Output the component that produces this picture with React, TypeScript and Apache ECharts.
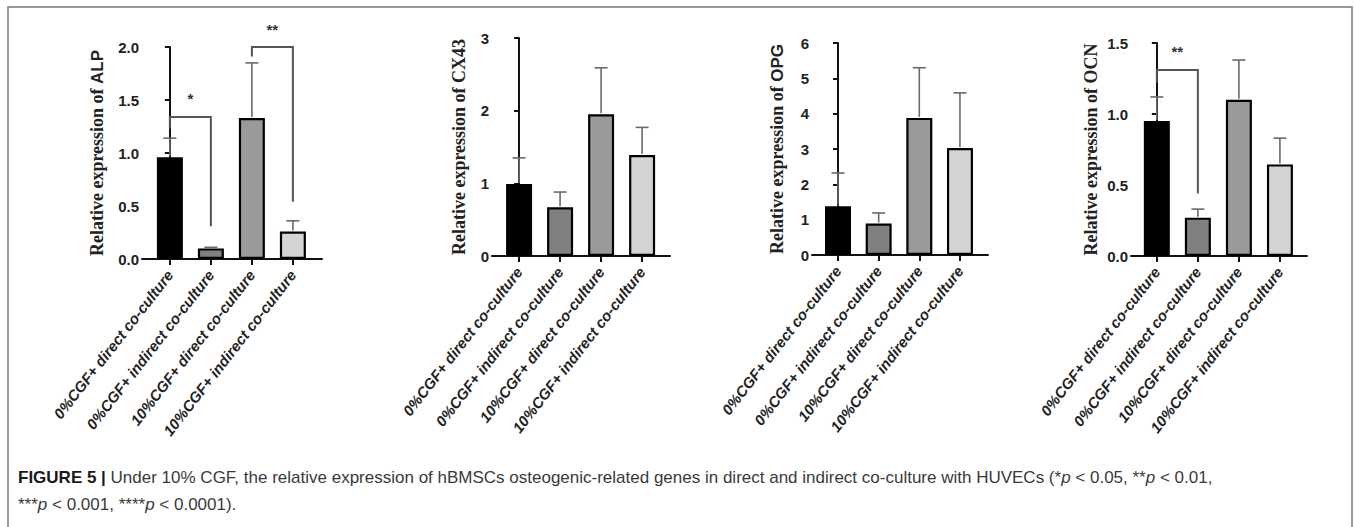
import React, { useEffect, useRef } from "react";
import * as echarts from "echarts";

const categories = [
  "0%CGF+ direct co-culture",
  "0%CGF+ indirect co-culture",
  "10%CGF+ direct co-culture",
  "10%CGF+ indirect co-culture",
];
const barColors = ["#000000", "#808080", "#9a9a9a", "#d4d4d4"];

const alpMean = [0.96, 0.1, 1.33, 0.26];
const alpUpper = [1.14, 0.11, 1.85, 0.36];
const cx43Mean = [0.99, 0.67, 1.95, 1.39];
const cx43Upper = [1.35, 0.88, 2.59, 1.77];
const opgMean = [1.38, 0.89, 3.88, 3.03];
const opgUpper = [2.32, 1.19, 5.3, 4.59];
const ocnMean = [0.95, 0.27, 1.1, 0.645];
const ocnUpper = [1.12, 0.33, 1.38, 0.83];

// brackets: [fromIndex, toIndex, leftEnd, top, rightEnd]
const alpBrackets = [
  [0, 1, 1.23, 1.34, 0.31],
  [2, 3, 1.91, 2.0, 0.54],
];
const alpStars = ["*", "**"];
const ocnBrackets = [[0, 1, 1.22, 1.31, 0.44]];
const ocnStars = ["**"];

const yMax = [2, 3, 6, 1.5];
const yInterval = [0.5, 1, 1, 0.5];
const yDecimals = [1, 0, 0, 1];

const panels = [
  { gene: "ALP", geneSerif: false, mean: alpMean, upper: alpUpper, brackets: alpBrackets, stars: alpStars,
    grid: { left: 142, top: 47, width: 180, height: 212 }, xMin: -0.68, xMax: 3.71, nameGap: 36 },
  { gene: "CX43", geneSerif: true, mean: cx43Mean, upper: cx43Upper, brackets: [], stars: [],
    grid: { left: 492, top: 38, width: 178, height: 218 }, xMin: -0.66, xMax: 3.68, nameGap: 24 },
  { gene: "OPG", geneSerif: false, mean: opgMean, upper: opgUpper, brackets: [], stars: [],
    grid: { left: 812, top: 43, width: 176, height: 212 }, xMin: -0.64, xMax: 3.69, nameGap: 26 },
  { gene: "OCN", geneSerif: true, mean: ocnMean, upper: ocnUpper, brackets: ocnBrackets, stars: ocnStars,
    grid: { left: 1131, top: 43, width: 176, height: 213 }, xMin: -0.63, xMax: 3.66, nameGap: 31 },
];

const SERIF = "'Liberation Serif', 'DejaVu Serif', serif";
const SANS = "'Liberation Sans', Arial, sans-serif";

export default function App() {
  const ref = useRef<HTMLDivElement>(null);

  useEffect(() => {
    if (!ref.current) return;
    const chart = echarts.init(ref.current, undefined, { renderer: "svg" });
    const idx = [0, 1, 2, 3];

    const grids = panels.map((p) => ({ ...p.grid, containLabel: false }));
    const xAxes = panels.map((p, i) => ({
      type: "value",
      gridIndex: i,
      min: p.xMin,
      max: p.xMax,
      splitLine: { show: false },
      axisLine: { show: true, lineStyle: { color: "#111", width: 2 } },
      axisTick: { show: true, customValues: idx, length: 6, lineStyle: { color: "#111", width: 2 } },
      axisLabel: {
        show: true,
        customValues: idx,
        rotate: 52,
        margin: 13,
        formatter: (v: number) => categories[Math.round(v)] ?? "",
        fontFamily: SANS,
        fontWeight: "bold",
        fontStyle: "italic",
        fontSize: 15,
        color: "#222",
      },
    }));
    const yAxes = panels.map((p, i) => ({
      type: "value",
      gridIndex: i,
      min: 0,
      max: yMax[i],
      interval: yInterval[i],
      splitLine: { show: false },
      axisLine: { show: true, lineStyle: { color: "#111", width: 2 } },
      axisTick: { show: true, length: 5, lineStyle: { color: "#111", width: 2 } },
      axisLabel: {
        margin: 3,
        formatter: (v: number) => v.toFixed(yDecimals[i]),
        fontFamily: SANS,
        fontWeight: "bold",
        fontSize: 15,
        color: "#222",
      },
      name: `{t|Relative expression of }{${p.geneSerif ? "t" : "s"}|${p.gene}}`,
      nameLocation: "middle",
      nameGap: p.nameGap,
      nameTextStyle: {
        rich: {
          t: { fontFamily: SERIF, fontWeight: "bold", fontSize: 18, color: "#222" },
          s: { fontFamily: SANS, fontWeight: "bold", fontSize: 17, color: "#222" },
        },
      },
    }));

    const series: any[] = [];
    panels.forEach((p, i) => {
      series.push({
        type: "bar",
        xAxisIndex: i,
        yAxisIndex: i,
        barWidth: 26,
        z: 2,
        data: p.mean.map((m, k) => ({
          value: [k, m],
          itemStyle: { color: barColors[k], borderColor: "#000", borderWidth: 2.2 },
        })),
      });
      series.push({
        type: "custom",
        xAxisIndex: i,
        yAxisIndex: i,
        z: 3,
        data: p.mean.map((m, k) => [k, m, p.upper[k]]),
        renderItem: (_params: any, api: any) => {
          const x = api.value(0);
          const p0 = api.coord([x, api.value(1)]);
          const p1 = api.coord([x, api.value(2)]);
          const st = { stroke: "#6a6a6a", lineWidth: 1.6 };
          return {
            type: "group",
            children: [
              { type: "line", shape: { x1: p0[0], y1: p0[1] - 1, x2: p1[0], y2: p1[1] }, style: st },
              { type: "line", shape: { x1: p1[0] - 6.5, y1: p1[1], x2: p1[0] + 6.5, y2: p1[1] }, style: st },
            ],
          };
        },
      });
      if (p.brackets.length) {
        series.push({
          type: "custom",
          xAxisIndex: i,
          yAxisIndex: i,
          z: 4,
          clip: false,
          data: p.brackets,
          renderItem: (params: any, api: any) => {
            const a = api.coord([api.value(0), api.value(2)]);
            const b = api.coord([api.value(0), api.value(3)]);
            const c = api.coord([api.value(1), api.value(3)]);
            const d = api.coord([api.value(1), api.value(4)]);
            return {
              type: "group",
              children: [
                {
                  type: "polyline",
                  shape: { points: [a, b, c, d] },
                  style: { stroke: "#555", lineWidth: 2, fill: "none" },
                },
                {
                  type: "text",
                  style: {
                    x: (b[0] + c[0]) / 2,
                    y: b[1] - 18,
                    text: p.stars[params.dataIndex],
                    font: `bold 15px ${SANS}`,
                    fill: "#333",
                    align: "center",
                    verticalAlign: "middle",
                  },
                },
              ],
            };
          },
        });
      }
    });

    chart.setOption({
      animation: false,
      backgroundColor: "#ffffff",
      grid: grids,
      xAxis: xAxes,
      yAxis: yAxes,
      series,
      graphic: [
        {
          type: "rect",
          shape: { x: 8, y: 7, width: 1344, height: 540 },
          style: { fill: "none", stroke: "#7a7a7a", lineWidth: 1.5 },
          silent: true,
        },
        {
          type: "text",
          style: {
            x: 18,
            y: 477,
            verticalAlign: "middle",
            text:
              "{b|FIGURE 5 | }{n|Under 10% CGF, the relative expression of hBMSCs osteogenic-related genes in direct and indirect co-culture with HUVECs (*}{i|p}{n| < 0.05, **}{i|p}{n| < 0.01,}",
            rich: {
              b: { fontFamily: SANS, fontWeight: "bold", fontSize: 17, fill: "#1a1a1a" },
              n: { fontFamily: SANS, fontSize: 17, fill: "#3a3a3a" },
              i: { fontFamily: SANS, fontStyle: "italic", fontSize: 17, fill: "#3a3a3a" },
            },
          },
        },
        {
          type: "text",
          style: {
            x: 18,
            y: 504,
            verticalAlign: "middle",
            text: "{n|***}{i|p}{n| < 0.001, ****}{i|p}{n| < 0.0001).}",
            rich: {
              n: { fontFamily: SANS, fontSize: 17, fill: "#3a3a3a" },
              i: { fontFamily: SANS, fontStyle: "italic", fontSize: 17, fill: "#3a3a3a" },
            },
          },
        },
      ],
    });
    return () => chart.dispose();
  }, []);

  return (
    <div
      ref={ref}
      style={{ position: "absolute", left: 0, top: 0, width: 1354, height: 527 }}
    />
  );
}
